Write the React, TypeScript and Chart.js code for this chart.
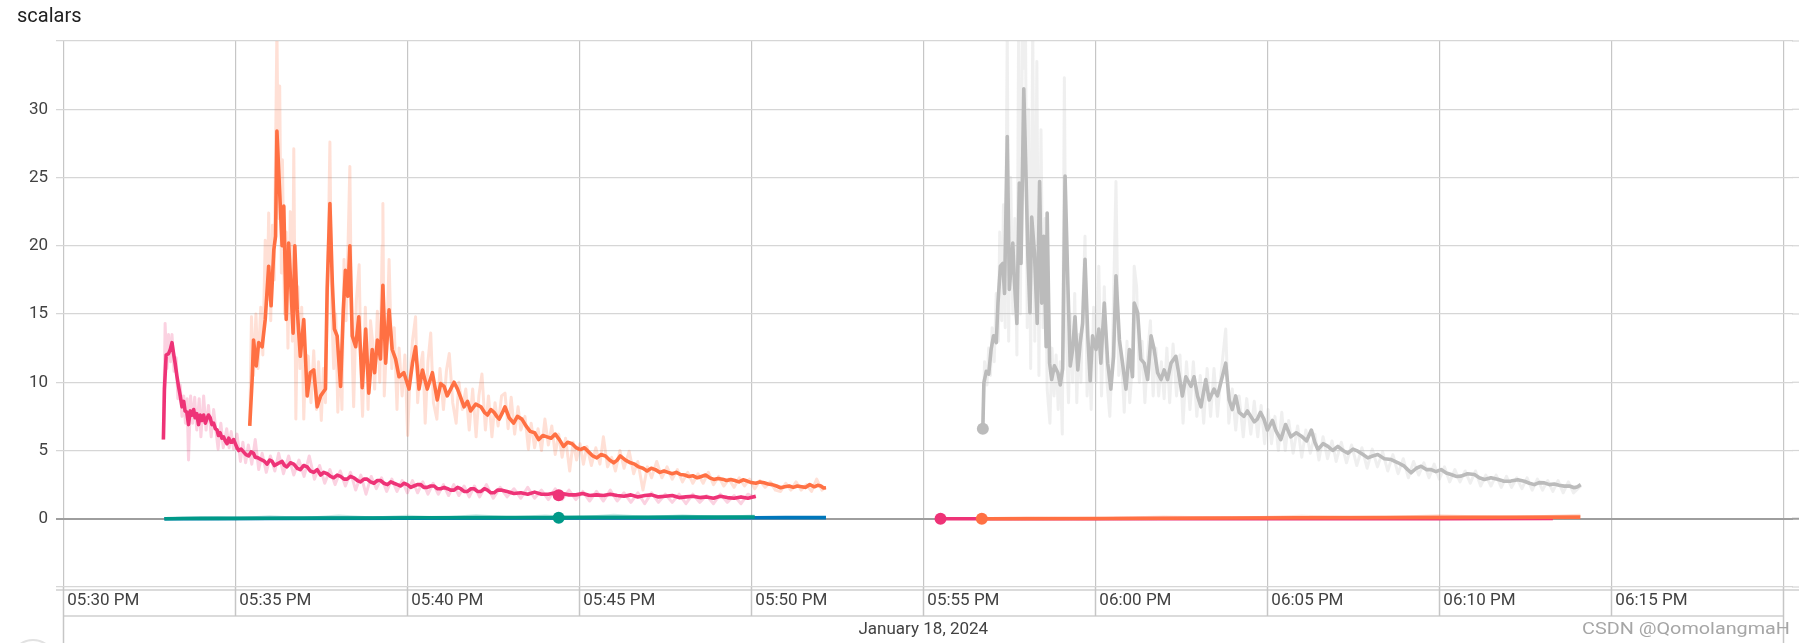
import React, { useEffect, useRef } from 'react';
import { Chart, registerables } from 'chart.js';

Chart.register(...registerables);

// x values are minutes after 05:30 PM (January 18, 2024)
const tickMinutes = [0, 5, 10, 15, 20, 25, 30, 35, 40, 45, 50];
const tickLabels = ['05:30 PM', '05:35 PM', '05:40 PM', '05:45 PM', '05:50 PM', '05:55 PM', '06:00 PM', '06:05 PM', '06:10 PM', '06:15 PM', ''];
const yTickValues = [-5, 0, 5, 10, 15, 20, 25, 30, 35];
const hiddenYTicks = [-5, 35];
const xMin = -0.212;
const xMax = 50.28;
const dateLabel = 'January 18, 2024';
const titleText = 'scalars';
const watermark = 'CSDN @QomolangmaH';

type P = [number, number];

const pinkSmooth: P[] = [
  [2.91, 5.8], [2.94, 9.5], [2.99, 12.0], [3.06, 12.1], [3.11, 12.4], [3.16, 12.9], [3.2, 12.2], [3.25, 11.4], [3.3, 10.5], [3.35, 9.7],
  [3.4, 9.0], [3.45, 8.2], [3.5, 8.6], [3.54, 7.9], [3.59, 7.8], [3.64, 6.9], [3.69, 7.9], [3.74, 7.6], [3.79, 8.0], [3.83, 7.4],
  [3.88, 7.7], [3.93, 6.9], [3.98, 7.6], [4.03, 7.2], [4.08, 7.6], [4.13, 7.0], [4.17, 7.3], [4.22, 7.6], [4.27, 7.4], [4.32, 6.9],
  [4.37, 7.0], [4.42, 6.6], [4.47, 6.5], [4.51, 6.1], [4.56, 6.3], [4.61, 5.9], [4.66, 6.0], [4.71, 5.7], [4.76, 5.5], [4.81, 5.9],
  [4.86, 5.6], [4.9, 5.6], [4.95, 5.8], [5.0, 5.5], [5.05, 5.2], [5.1, 5.0], [5.17, 5.1], [5.24, 4.9], [5.31, 4.7], [5.39, 4.6],
  [5.46, 4.9], [5.53, 4.8], [5.58, 4.5], [5.63, 4.5], [5.7, 4.4], [5.78, 4.3], [5.85, 4.2], [5.92, 4.0], [6.0, 4.3], [6.07, 4.2],
  [6.14, 3.9], [6.21, 4.0], [6.28, 4.1], [6.36, 4.2], [6.43, 3.9], [6.5, 3.8], [6.6, 4.1], [6.7, 4.0], [6.8, 3.7], [6.89, 3.6],
  [6.99, 3.9], [7.09, 3.8], [7.18, 3.5], [7.28, 3.4], [7.38, 3.6], [7.48, 3.2], [7.57, 3.4], [7.67, 3.3], [7.77, 3.1], [7.86, 3.0],
  [7.96, 3.2], [8.06, 3.1], [8.16, 2.9], [8.25, 2.9], [8.35, 3.1], [8.45, 3.0], [8.55, 2.8], [8.64, 2.7], [8.74, 2.9], [8.83, 2.9],
  [8.93, 2.7], [9.03, 2.6], [9.13, 2.8], [9.22, 2.8], [9.32, 2.6], [9.42, 2.5], [9.52, 2.7], [9.61, 2.6], [9.71, 2.5], [9.81, 2.4],
  [9.9, 2.6], [10.0, 2.5], [10.1, 2.3], [10.19, 2.4], [10.29, 2.5], [10.39, 2.5], [10.48, 2.3], [10.58, 2.3], [10.68, 2.4], [10.78, 2.4],
  [10.87, 2.2], [10.97, 2.2], [11.07, 2.3], [11.17, 2.2], [11.26, 2.1], [11.36, 2.1], [11.46, 2.3], [11.55, 2.2], [11.65, 2.0], [11.75, 2.0],
  [11.85, 2.2], [11.94, 2.2], [12.04, 2.0], [12.14, 2.0], [12.24, 2.2], [12.33, 2.1], [12.43, 1.9], [12.52, 1.9], [12.62, 2.1], [12.72, 2.1],
  [12.9, 2.0], [13.1, 1.85], [13.3, 1.9], [13.5, 1.8], [13.7, 1.95], [13.9, 1.8], [14.1, 1.8], [14.3, 1.9], [14.4, 1.73], [14.5, 1.85],
  [14.7, 1.75], [14.9, 1.75], [15.1, 1.85], [15.3, 1.7], [15.5, 1.75], [15.7, 1.7], [15.9, 1.8], [16.1, 1.7], [16.3, 1.65], [16.5, 1.75],
  [16.7, 1.6], [16.9, 1.7], [17.1, 1.75], [17.3, 1.6], [17.5, 1.65], [17.7, 1.7], [17.9, 1.55], [18.1, 1.6], [18.3, 1.65], [18.5, 1.55],
  [18.7, 1.6], [18.9, 1.5], [19.1, 1.65], [19.3, 1.55], [19.5, 1.5], [19.7, 1.6], [19.9, 1.5], [20.13, 1.65],
];

const pinkRaw: P[] = [
  [2.91, 5.8], [2.96, 14.3], [3.01, 11.0], [3.06, 13.5], [3.12, 11.5], [3.16, 13.5], [3.22, 10.8], [3.28, 11.8], [3.33, 8.8], [3.4, 9.8],
  [3.45, 7.5], [3.5, 9.0], [3.55, 7.0], [3.6, 8.8], [3.64, 4.3], [3.7, 9.0], [3.76, 7.0], [3.82, 8.9], [3.88, 6.5], [3.95, 8.8],
  [4.0, 6.0], [4.08, 9.0], [4.15, 6.5], [4.22, 8.3], [4.3, 6.0], [4.37, 8.0], [4.44, 6.4], [4.5, 5.1], [4.58, 7.0], [4.65, 5.2],
  [4.75, 6.6], [4.82, 5.2], [4.88, 6.4], [4.95, 5.1], [5.05, 6.2], [5.15, 4.2], [5.22, 5.6], [5.3, 4.1], [5.38, 5.4], [5.48, 4.0],
  [5.58, 5.8], [5.68, 3.6], [5.78, 4.8], [5.9, 3.4], [6.02, 4.6], [6.15, 3.5], [6.26, 4.8], [6.4, 3.3], [6.55, 4.6], [6.7, 3.2],
  [6.85, 4.3], [7.0, 3.1], [7.15, 4.6], [7.3, 2.9], [7.45, 3.9], [7.6, 2.6], [7.75, 3.6], [7.9, 2.5], [8.05, 3.5], [8.2, 2.4],
  [8.35, 3.4], [8.5, 2.1], [8.65, 3.2], [8.8, 1.8], [8.95, 3.1], [9.1, 2.2], [9.25, 3.0], [9.4, 2.0], [9.55, 2.9], [9.7, 2.0],
  [9.85, 2.8], [10.0, 1.9], [10.15, 2.8], [10.3, 1.9], [10.45, 2.7], [10.6, 1.8], [10.75, 2.6], [10.9, 1.8], [11.05, 2.5], [11.2, 1.7],
  [11.35, 2.5], [11.5, 1.7], [11.65, 2.4], [11.8, 1.6], [11.95, 2.4], [12.1, 1.6], [12.3, 2.5], [12.5, 1.5], [12.7, 2.3], [12.9, 1.6],
  [13.1, 2.2], [13.3, 1.5], [13.5, 2.3], [13.7, 1.5], [13.9, 2.1], [14.1, 1.4], [14.3, 2.2], [14.5, 1.4], [14.7, 2.1], [14.9, 1.4],
  [15.1, 2.0], [15.3, 1.3], [15.5, 2.0], [15.7, 1.3], [15.9, 2.1], [16.1, 1.3], [16.3, 1.9], [16.5, 1.2], [16.7, 1.9], [16.9, 1.1],
  [17.1, 1.9], [17.3, 1.2], [17.5, 1.8], [17.7, 1.2], [17.9, 1.8], [18.1, 1.1], [18.3, 1.8], [18.5, 1.2], [18.7, 1.7], [18.9, 1.1],
  [19.1, 1.8], [19.3, 1.2], [19.5, 1.7], [19.7, 1.1], [19.9, 1.8], [20.13, 1.5],
];

const orangeSmooth: P[] = [
  [5.42, 6.8], [5.49, 10.2], [5.53, 13.1], [5.61, 11.2], [5.68, 12.9], [5.78, 12.6], [5.87, 14.6], [5.97, 18.5], [6.04, 15.6], [6.12, 19.7],
  [6.17, 20.7], [6.21, 28.4], [6.29, 23.9], [6.36, 20.0], [6.41, 22.9], [6.48, 14.6], [6.55, 20.2], [6.6, 17.8], [6.68, 13.6], [6.73, 20.0],
  [6.8, 15.3], [6.89, 11.9], [6.99, 14.6], [7.09, 9.0], [7.18, 10.7], [7.28, 10.9], [7.38, 8.2], [7.48, 9.0], [7.62, 9.5], [7.67, 16.8],
  [7.75, 23.1], [7.82, 17.3], [7.88, 13.9], [7.96, 13.4], [8.06, 9.7], [8.14, 15.3], [8.2, 18.2], [8.27, 16.3], [8.33, 20.0], [8.4, 13.4],
  [8.5, 12.6], [8.59, 14.8], [8.69, 9.6], [8.79, 13.9], [8.88, 9.2], [8.98, 12.4], [9.05, 10.7], [9.13, 13.1], [9.22, 11.7], [9.29, 17.1],
  [9.37, 11.4], [9.47, 15.3], [9.56, 12.4], [9.66, 11.7], [9.76, 10.4], [9.9, 10.7], [10.05, 9.5], [10.15, 11.4], [10.24, 12.6], [10.34, 9.5],
  [10.44, 10.9], [10.58, 9.5], [10.73, 10.7], [10.87, 8.7], [10.97, 9.9], [11.07, 9.7], [11.16, 9.0], [11.26, 9.5], [11.36, 10.0], [11.46, 9.5],
  [11.55, 8.9], [11.65, 8.2], [11.75, 8.6], [11.84, 7.9], [11.99, 8.4], [12.14, 8.2], [12.24, 7.8], [12.33, 7.6], [12.43, 8.0], [12.52, 7.8],
  [12.6, 7.5], [12.67, 7.3], [12.75, 7.7], [12.84, 8.2], [12.96, 7.4], [13.09, 7.0], [13.2, 7.5], [13.33, 7.3], [13.45, 6.8], [13.57, 6.4],
  [13.7, 6.3], [13.82, 5.8], [13.94, 6.1], [14.06, 6.0], [14.18, 5.9], [14.3, 6.2], [14.42, 5.8], [14.54, 5.3], [14.66, 5.6], [14.79, 5.5],
  [14.91, 5.2], [15.03, 5.07], [15.15, 5.2], [15.27, 4.9], [15.39, 4.6], [15.51, 4.46], [15.63, 4.7], [15.76, 4.6], [15.88, 4.3], [16.0, 4.1],
  [16.1, 4.3], [16.19, 4.6], [16.34, 4.3], [16.49, 4.1], [16.61, 4.0], [16.73, 3.8], [16.85, 3.7], [16.97, 3.5], [17.09, 3.7], [17.21, 3.6],
  [17.34, 3.4], [17.46, 3.5], [17.58, 3.4], [17.7, 3.3], [17.82, 3.4], [17.94, 3.24], [18.06, 3.2], [18.18, 3.1], [18.3, 3.15], [18.43, 3.0],
  [18.55, 3.1], [18.67, 3.2], [18.79, 3.0], [18.91, 2.88], [19.03, 2.95], [19.16, 2.9], [19.28, 2.8], [19.4, 2.88], [19.52, 2.8], [19.64, 2.7],
  [19.76, 2.85], [19.88, 2.76], [20.0, 2.65], [20.13, 2.6], [20.25, 2.7], [20.37, 2.63], [20.49, 2.55], [20.61, 2.5], [20.73, 2.4], [20.85, 2.27],
  [20.97, 2.35], [21.1, 2.4], [21.22, 2.3], [21.34, 2.4], [21.46, 2.35], [21.58, 2.3], [21.7, 2.5], [21.83, 2.34], [21.93, 2.45], [22.02, 2.4],
  [22.1, 2.25], [22.17, 2.27],
];

const orangeRaw: P[] = [
  [5.42, 6.8], [5.47, 14.8], [5.53, 10.5], [5.6, 15.0], [5.66, 11.0], [5.74, 15.5], [5.8, 12.0], [5.87, 20.4], [5.93, 16.0], [5.97, 22.4],
  [6.03, 14.5], [6.08, 21.5], [6.13, 17.5], [6.21, 36], [6.26, 22], [6.29, 31.7], [6.34, 18], [6.37, 26.3], [6.43, 15], [6.48, 21],
  [6.53, 12.5], [6.6, 22.5], [6.66, 13.0], [6.7, 27.1], [6.76, 7.3], [6.82, 17], [6.88, 11], [6.93, 15.5], [6.99, 7.3], [7.05, 12],
  [7.12, 11.9], [7.2, 8.5], [7.28, 12.3], [7.36, 8.0], [7.42, 11.5], [7.5, 7.2], [7.56, 11.0], [7.62, 8.5], [7.7, 19.5], [7.75, 27.6],
  [7.8, 15.5], [7.86, 11.0], [7.92, 15.0], [7.98, 7.8], [8.04, 12.0], [8.1, 8.0], [8.16, 19.0], [8.22, 14.5], [8.28, 20.3], [8.33, 25.8],
  [8.38, 14.0], [8.44, 8.2], [8.52, 16.0], [8.6, 18.6], [8.66, 10.0], [8.7, 7.5], [8.78, 15.5], [8.86, 8.0], [8.93, 14.5], [8.99, 13.0],
  [9.05, 9.5], [9.13, 15.2], [9.2, 10.0], [9.27, 20.0], [9.29, 23.1], [9.33, 9.0], [9.41, 13.5], [9.47, 19.0], [9.55, 11.0], [9.62, 14.0],
  [9.7, 8.0], [9.76, 12.5], [9.85, 9.0], [9.93, 12.0], [10.01, 6.1], [10.08, 10.5], [10.15, 13.0], [10.24, 14.8], [10.3, 8.5], [10.37, 11.0],
  [10.45, 12.2], [10.52, 7.0], [10.6, 11.5], [10.68, 13.6], [10.76, 8.5], [10.86, 7.3], [10.95, 11.0], [11.05, 8.0], [11.14, 10.9], [11.22, 12.1],
  [11.32, 8.5], [11.42, 7.0], [11.5, 10.0], [11.6, 8.0], [11.7, 9.5], [11.8, 6.5], [11.9, 9.5], [12.0, 6.0], [12.08, 9.0], [12.17, 10.6],
  [12.27, 6.5], [12.36, 9.0], [12.46, 6.0], [12.55, 8.5], [12.64, 6.8], [12.74, 9.0], [12.84, 9.2], [12.93, 6.6], [13.02, 8.9], [13.12, 6.2],
  [13.22, 8.2], [13.3, 6.5], [13.42, 7.5], [13.52, 5.1], [13.6, 7.0], [13.7, 5.2], [13.8, 6.6], [13.9, 5.0], [14.0, 7.3], [14.1, 5.4],
  [14.2, 6.8], [14.3, 4.7], [14.4, 6.2], [14.5, 4.5], [14.6, 5.9], [14.72, 3.5], [14.82, 5.6], [14.92, 4.3], [15.02, 5.5], [15.12, 4.0],
  [15.22, 5.3], [15.35, 3.9], [15.48, 5.2], [15.6, 4.0], [15.7, 6.0], [15.82, 3.8], [15.94, 4.5], [16.05, 3.5], [16.18, 5.0], [16.3, 3.7],
  [16.45, 4.95], [16.58, 3.3], [16.7, 4.2], [16.85, 2.1], [16.98, 3.8], [17.1, 3.0], [17.25, 4.2], [17.4, 3.0], [17.55, 3.8], [17.7, 2.9],
  [17.85, 3.6], [18.0, 2.7], [18.15, 3.4], [18.3, 2.6], [18.45, 3.3], [18.6, 2.6], [18.75, 3.4], [18.9, 2.5], [19.05, 3.1], [19.2, 2.4],
  [19.35, 2.9], [19.5, 2.3], [19.65, 3.0], [19.8, 2.4], [19.95, 2.9], [20.1, 2.2], [20.25, 2.8], [20.4, 2.3], [20.55, 2.7], [20.7, 2.1],
  [20.85, 2.0], [21.0, 2.6], [21.15, 2.1], [21.3, 2.7], [21.45, 2.1], [21.6, 2.5], [21.75, 2.0], [21.9, 2.9], [22.05, 2.1], [22.17, 2.3],
];

const graySmooth: P[] = [
  [26.73, 6.6], [26.76, 9.95], [26.83, 10.8], [26.9, 10.6], [26.97, 12.4], [27.04, 13.4], [27.12, 12.9], [27.17, 15.8], [27.24, 18.5], [27.31, 18.7],
  [27.36, 16.5], [27.44, 28.0], [27.5, 16.8], [27.6, 20.2], [27.65, 17.3], [27.72, 14.3], [27.79, 24.6], [27.84, 18.7], [27.92, 31.5], [27.99, 24.6],
  [28.04, 19.2], [28.1, 15.1], [28.15, 22.1], [28.23, 19.5], [28.31, 14.3], [28.38, 24.7], [28.44, 15.8], [28.5, 20.7], [28.57, 12.6], [28.6, 22.4],
  [28.67, 11.4], [28.73, 10.2], [28.81, 11.2], [28.91, 10.7], [28.98, 9.8], [29.05, 11.0], [29.12, 25.1], [29.2, 17.3], [29.27, 11.2], [29.34, 12.4],
  [29.41, 14.8], [29.49, 10.9], [29.56, 12.9], [29.63, 14.3], [29.7, 19.0], [29.78, 13.4], [29.85, 10.1], [29.92, 13.4], [30.02, 12.4], [30.1, 13.9],
  [30.16, 11.4], [30.26, 15.8], [30.36, 11.4], [30.45, 9.5], [30.53, 11.9], [30.6, 17.8], [30.7, 13.1], [30.79, 11.4], [30.89, 9.5], [30.99, 12.4],
  [31.08, 10.4], [31.13, 15.8], [31.23, 15.1], [31.32, 11.7], [31.42, 11.4], [31.52, 10.2], [31.62, 13.4], [31.71, 12.4], [31.81, 10.7], [31.91, 10.2],
  [32.0, 10.9], [32.1, 10.2], [32.2, 11.4], [32.34, 11.9], [32.44, 10.4], [32.53, 9.0], [32.63, 10.4], [32.78, 9.7], [32.87, 10.4], [32.97, 9.0],
  [33.07, 8.2], [33.21, 10.2], [33.31, 8.7], [33.45, 9.5], [33.55, 9.0], [33.65, 10.0], [33.79, 11.4], [33.89, 8.7], [33.98, 8.0], [34.08, 9.0],
  [34.18, 7.8], [34.32, 7.5], [34.42, 7.9], [34.52, 7.5], [34.62, 7.1], [34.71, 7.3], [34.8, 7.8], [34.9, 7.3], [35.0, 6.5], [35.15, 7.2],
  [35.24, 6.5], [35.39, 5.8], [35.53, 6.9], [35.68, 6.0], [35.84, 6.3], [35.99, 6.05], [36.14, 5.7], [36.28, 6.5], [36.38, 5.6], [36.47, 5.07],
  [36.62, 5.5], [36.76, 5.3], [36.9, 5.0], [37.05, 5.3], [37.2, 5.0], [37.34, 4.8], [37.49, 5.1], [37.63, 4.95], [37.78, 4.7], [37.92, 4.46],
  [38.06, 4.6], [38.21, 4.7], [38.4, 4.4], [38.6, 4.34], [38.8, 4.1], [38.98, 3.85], [39.08, 3.6], [39.18, 3.37], [39.33, 3.7], [39.47, 3.85],
  [39.62, 3.6], [39.76, 3.6], [39.9, 3.45], [40.05, 3.6], [40.2, 3.35], [40.34, 3.24], [40.49, 3.1], [40.63, 3.12], [40.82, 3.3], [41.02, 3.24],
  [41.16, 3.0], [41.31, 2.88], [41.5, 3.0], [41.69, 2.9], [41.88, 2.75], [42.08, 2.76], [42.28, 2.85], [42.47, 2.75], [42.62, 2.6], [42.76, 2.5],
  [42.9, 2.65], [43.05, 2.63], [43.2, 2.5], [43.34, 2.55], [43.48, 2.45], [43.63, 2.39], [43.78, 2.4], [43.92, 2.27], [44.02, 2.35], [44.11, 2.5],
];

const grayRaw: P[] = [
  [26.73, 6.6], [26.78, 11.5], [26.85, 9.8], [26.9, 12.5], [26.95, 10.5], [27.0, 14.0], [27.06, 11.5], [27.12, 16.5], [27.18, 13.0], [27.22, 21.0],
  [27.28, 14.5], [27.33, 23.0], [27.38, 14.0], [27.44, 36], [27.48, 13.0], [27.54, 25.0], [27.6, 15.0], [27.66, 22.0], [27.72, 12.0], [27.77, 36],
  [27.82, 15.0], [27.88, 36], [27.92, 33.0], [27.97, 36], [28.02, 14.0], [28.06, 30.0], [28.12, 11.0], [28.18, 36], [28.24, 13.0], [28.3, 33.5],
  [28.36, 10.5], [28.42, 28.5], [28.48, 14.0], [28.54, 22.0], [28.6, 9.5], [28.68, 7.0], [28.74, 12.5], [28.8, 9.0], [28.86, 12.0], [28.92, 8.0],
  [28.98, 11.5], [29.04, 6.2], [29.1, 32.3], [29.15, 14.0], [29.22, 8.5], [29.28, 15.0], [29.34, 10.0], [29.4, 16.5], [29.46, 8.5], [29.52, 13.5],
  [29.58, 10.0], [29.64, 16.0], [29.7, 20.7], [29.76, 9.0], [29.82, 12.0], [29.88, 8.0], [29.95, 15.5], [30.02, 10.0], [30.1, 18.5], [30.18, 9.0],
  [30.26, 17.0], [30.34, 10.0], [30.42, 7.5], [30.5, 12.5], [30.6, 24.7], [30.68, 10.5], [30.76, 12.0], [30.84, 7.8], [30.92, 13.0], [31.0, 8.5],
  [31.08, 11.5], [31.13, 18.5], [31.2, 17.0], [31.28, 10.0], [31.36, 13.0], [31.44, 8.5], [31.52, 12.0], [31.6, 14.5], [31.68, 9.0], [31.76, 12.5],
  [31.84, 9.0], [31.92, 11.5], [32.0, 8.8], [32.08, 12.5], [32.16, 8.5], [32.26, 12.8], [32.36, 9.0], [32.46, 12.0], [32.55, 7.0], [32.65, 11.5],
  [32.75, 8.0], [32.85, 11.5], [32.95, 7.5], [33.05, 10.5], [33.15, 7.0], [33.25, 11.0], [33.35, 7.5], [33.45, 11.0], [33.55, 7.5], [33.65, 10.5],
  [33.79, 13.9], [33.88, 7.0], [33.98, 9.5], [34.08, 6.5], [34.18, 9.0], [34.3, 6.0], [34.4, 8.8], [34.52, 6.2], [34.62, 8.6], [34.72, 6.0],
  [34.82, 8.3], [34.92, 5.5], [35.02, 8.0], [35.12, 5.5], [35.22, 7.5], [35.32, 5.0], [35.42, 7.8], [35.52, 5.0], [35.62, 7.2], [35.75, 4.8],
  [35.88, 6.8], [36.0, 4.5], [36.12, 6.5], [36.25, 4.8], [36.38, 6.2], [36.5, 4.3], [36.62, 6.0], [36.75, 4.4], [36.88, 5.7], [37.0, 4.2],
  [37.15, 5.6], [37.3, 4.1], [37.45, 5.4], [37.6, 3.9], [37.75, 5.2], [37.9, 3.7], [38.05, 5.1], [38.2, 3.8], [38.35, 4.9], [38.5, 3.5],
  [38.65, 4.7], [38.8, 3.3], [38.95, 4.4], [39.1, 3.0], [39.25, 4.2], [39.4, 3.2], [39.55, 4.1], [39.7, 3.0], [39.85, 4.0], [40.0, 2.9],
  [40.15, 3.8], [40.3, 2.7], [40.45, 3.6], [40.6, 2.7], [40.75, 3.5], [40.9, 2.6], [41.05, 3.5], [41.2, 2.4], [41.35, 3.2], [41.5, 2.4],
  [41.65, 3.2], [41.8, 2.3], [41.95, 3.1], [42.1, 2.3], [42.25, 3.0], [42.4, 2.2], [42.55, 3.0], [42.7, 2.1], [42.85, 2.9], [43.0, 2.1],
  [43.15, 2.8], [43.3, 2.0], [43.45, 2.8], [43.6, 1.9], [43.75, 2.7], [43.9, 1.9], [44.11, 2.4],
];

const tealSmooth: P[] = [
  [2.94, 0.0], [3.5, 0.02], [4.5, 0.03], [6.0, 0.04], [7.5, 0.05], [9.0, 0.06], [10.5, 0.07], [12.0, 0.08], [13.5, 0.09], [14.4, 0.08],
  [15.0, 0.1], [16.5, 0.11], [18.0, 0.12], [19.5, 0.12], [20.1, 0.13],
];
const tealRaw: P[] = [
  [2.94, 0.0], [4.0, 0.1], [5.0, 0.0], [6.0, 0.15], [7.0, 0.02], [8.0, 0.2], [9.0, 0.05], [10.0, 0.18], [11.0, 0.06], [12.0, 0.22],
  [13.0, 0.08], [14.0, 0.2], [15.0, 0.07], [16.0, 0.25], [17.0, 0.1], [18.0, 0.22], [19.0, 0.1], [20.1, 0.2],
];
const blueSmooth: P[] = [
  [2.94, 0.0], [6.0, 0.02], [10.0, 0.04], [14.0, 0.05], [18.0, 0.06], [20.1, 0.07], [21.0, 0.08], [22.17, 0.08],
];
const pinkZeroSmooth: P[] = [
  [25.5, 0.0], [30.0, 0.0], [35.0, 0.01], [40.0, 0.01], [43.3, 0.02],
];
const orangeZeroSmooth: P[] = [
  [26.7, 0.0], [30.0, 0.02], [34.0, 0.05], [38.0, 0.08], [41.0, 0.1], [44.1, 0.12],
];
const orangeZeroRaw: P[] = [
  [26.7, 0.0], [28.0, 0.05], [30.0, 0.0], [32.0, 0.12], [34.0, 0.03], [36.0, 0.18], [38.0, 0.05], [40.0, 0.22], [42.0, 0.08], [44.1, 0.25],
];

// highlighted step markers
const pinkMarker: P[] = [[14.4, 1.73]];
const tealMarker: P[] = [[14.4, 0.08]];
const grayMarker: P[] = [[26.73, 6.6]];
const pinkZeroMarker: P[] = [[25.5, 0.0]];
const orangeZeroMarker: P[] = [[26.7, 0.0]];

const PINK = '#ee3377';
const ORANGE = '#ff7043';
const GRAY = '#bbbbbb';
const TEAL = '#009988';
const BLUE = '#0077bb';

const xy = (arr: P[]) => arr.map(([x, y]) => ({ x, y }));
const fade = (hex: string, a: number) => {
  const r = parseInt(hex.slice(1, 3), 16), g = parseInt(hex.slice(3, 5), 16), b = parseInt(hex.slice(5, 7), 16);
  return `rgba(${r},${g},${b},${a})`;
};

const lineDs = (data: P[], color: string, order: number, width = 3.6) => ({
  type: 'line' as const,
  data: xy(data),
  borderColor: color,
  backgroundColor: color,
  borderWidth: width,
  pointRadius: 0,
  tension: 0,
  fill: false,
  borderJoinStyle: 'round' as const,
  clip: 0,
  order,
});
const markerDs = (data: P[], color: string) => ({
  type: 'line' as const,
  data: xy(data),
  showLine: false,
  pointRadius: 6,
  pointBackgroundColor: color,
  pointBorderColor: color,
  pointBorderWidth: 0,
  clip: false as const,
  order: 0,
});

const W = 1799;
const H = 643;
const GRID = '#d6d6d6';
const ZERO = '#9e9e9e';

const decorPlugin = {
  id: 'decor',
  beforeDatasetsDraw(chart: any) {
    // continue the horizontal grid lines to the right edge of the panel
    const ctx: CanvasRenderingContext2D = chart.ctx;
    const ys = chart.scales.y;
    const area = chart.chartArea;
    ctx.save();
    yTickValues.forEach((v) => {
      const py = ys.getPixelForValue(v);
      ctx.strokeStyle = v === 0 ? ZERO : GRID;
      ctx.lineWidth = v === 0 ? 2 : 1.2;
      ctx.beginPath();
      ctx.moveTo(area.right - 1, py);
      ctx.lineTo(W, py);
      ctx.stroke();
    });
    ctx.restore();
  },
  afterDraw(chart: any) {
    const ctx: CanvasRenderingContext2D = chart.ctx;
    const xs = chart.scales.x;
    const area = chart.chartArea;
    ctx.save();
    ctx.fillStyle = '#212121';
    ctx.font = '20px Roboto';
    ctx.textAlign = 'left';
    ctx.textBaseline = 'alphabetic';
    ctx.fillText(titleText, 17, 22);

    const line = (x1: number, y1: number, x2: number, y2: number) => {
      ctx.beginPath();
      ctx.moveTo(x1, y1);
      ctx.lineTo(x2, y2);
      ctx.stroke();
    };
    const rowTop = 590;
    const rowBot = 616;
    const x0 = xs.getPixelForValue(tickMinutes[0]);
    const xe = xs.getPixelForValue(tickMinutes[tickMinutes.length - 1]);
    ctx.strokeStyle = '#cfcfcf';
    ctx.lineWidth = 1.5;
    line(area.left, rowTop, W, rowTop);
    line(x0, rowBot, xe, rowBot);
    ctx.strokeStyle = '#c6c6c6';
    tickMinutes.forEach((m) => {
      const px = Math.round(xs.getPixelForValue(m)) + 0.5;
      line(px, area.bottom, px, rowBot);
    });
    line(Math.round(x0) + 0.5, rowBot, Math.round(x0) + 0.5, H);
    line(Math.round(xe) + 0.5, rowBot, Math.round(xe) + 0.5, H);

    ctx.fillStyle = '#424242';
    ctx.font = '17px Roboto';
    ctx.textAlign = 'center';
    ctx.textBaseline = 'middle';
    ctx.fillText(dateLabel, (x0 + xe) / 2, 630);

    // watermark, slightly condensed-wide like the screenshot
    ctx.fillStyle = '#a6a6a6';
    ctx.font = '17px Roboto';
    ctx.textAlign = 'left';
    const wmWidth = ctx.measureText(watermark).width;
    const target = 208;
    ctx.save();
    ctx.translate(1582, 630);
    ctx.scale(target / wmWidth, 1);
    ctx.fillText(watermark, 0, 0);
    ctx.restore();

    ctx.strokeStyle = '#e2e2e2';
    ctx.lineWidth = 2;
    ctx.beginPath();
    ctx.arc(33, 662, 22, 0, Math.PI * 2);
    ctx.stroke();
    ctx.restore();
  },
};

export default function App() {
  const ref = useRef<HTMLCanvasElement | null>(null);
  useEffect(() => {
    if (!ref.current) return;
    Chart.defaults.font.family = 'Roboto';
    const chart = new Chart(ref.current, {
      type: 'line',
      data: {
        datasets: [
          markerDs(pinkMarker, PINK),
          markerDs(tealMarker, TEAL),
          markerDs(grayMarker, GRAY),
          markerDs(pinkZeroMarker, PINK),
          markerDs(orangeZeroMarker, ORANGE),
          lineDs(orangeZeroSmooth, ORANGE, 3),
          lineDs(pinkZeroSmooth, PINK, 4),
          lineDs(tealSmooth, TEAL, 3),
          lineDs(blueSmooth, BLUE, 4),
          lineDs(pinkSmooth, PINK, 5),
          lineDs(orangeSmooth, ORANGE, 5),
          lineDs(graySmooth, GRAY, 5),
          lineDs(pinkRaw, fade(PINK, 0.22), 10, 3),
          lineDs(orangeRaw, fade(ORANGE, 0.22), 10, 3),
          lineDs(grayRaw, fade(GRAY, 0.24), 10, 3),
          lineDs(tealRaw, fade(TEAL, 0.22), 10, 3),
          lineDs(orangeZeroRaw, fade(ORANGE, 0.22), 10, 3),
        ] as any,
      },
      options: {
        animation: false,
        responsive: false,
        maintainAspectRatio: false,
        devicePixelRatio: 1,
        events: [],
        layout: { padding: { top: 41, left: 0, right: 0, bottom: 0 } },
        plugins: { legend: { display: false }, tooltip: { enabled: false }, title: { display: false } },
        scales: {
          x: {
            type: 'linear',
            min: xMin,
            max: xMax,
            afterBuildTicks: (scale: any) => {
              scale.ticks = tickMinutes.map((v) => ({ value: v }));
            },
            afterFit: (scale: any) => {
              scale.height = 56;
              scale.paddingLeft = 0;
              scale.paddingRight = 0;
            },
            border: { display: false },
            grid: { color: '#c6c6c6', lineWidth: 1.2, drawTicks: false },
            ticks: {
              autoSkip: false,
              maxRotation: 0,
              minRotation: 0,
              align: 'start',
              labelOffset: 4,
              padding: 0,
              color: '#424242',
              font: { size: 17, family: 'Roboto', lineHeight: 1.6 },
              callback: (value: any) => {
                const i = tickMinutes.indexOf(Number(value));
                return i >= 0 ? tickLabels[i] : '';
              },
            },
          },
          y: {
            type: 'linear',
            min: yTickValues[0],
            max: yTickValues[yTickValues.length - 1],
            afterBuildTicks: (scale: any) => {
              scale.ticks = yTickValues.map((v) => ({ value: v }));
            },
            afterFit: (scale: any) => {
              scale.width = 56;
            },
            border: { display: false },
            grid: {
              drawTicks: false,
              color: (c: any) => (c.tick && c.tick.value === 0 ? ZERO : GRID),
              lineWidth: (c: any) => (c.tick && c.tick.value === 0 ? 2 : 1.2),
            },
            ticks: {
              padding: 8,
              color: '#424242',
              font: { size: 17, family: 'Roboto' },
              callback: (value: any) => (hiddenYTicks.includes(Number(value)) ? '' : String(value)),
            },
          },
        },
      } as any,
      plugins: [decorPlugin],
    });
    return () => chart.destroy();
  }, []);

  return (
    <div style={{ position: 'fixed', left: 0, top: 0, width: W, height: H, background: '#fff' }}>
      <canvas ref={ref} width={W} height={H} style={{ display: 'block', width: W, height: H }} />
    </div>
  );
}
